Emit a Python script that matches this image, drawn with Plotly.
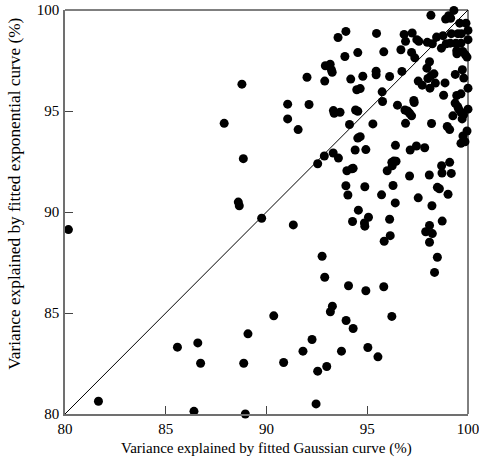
import plotly.graph_objects as go

gauss = [80.17, 81.66, 86.40, 88.95, 85.58, 86.59, 86.73, 88.87, 89.08, 90.36, 90.85, 91.81, 92.26, 92.54,
         92.99, 92.46, 93.72, 93.95, 94.30, 93.17, 93.27, 95.03, 95.53, 96.22, 95.82, 94.93, 94.07, 92.76,
         92.89,
         88.78, 87.90, 88.85, 88.60, 88.65, 89.76, 91.33, 91.05, 91.05, 91.57, 92.11, 92.01, 92.92, 93.16,
         93.22, 93.26, 92.89, 93.55, 93.94, 93.89, 93.32, 93.36, 93.65, 94.12, 93.31, 93.57, 92.87, 92.54,
         94.18, 94.53, 94.78, 94.48, 94.65, 94.42, 94.53, 94.53, 94.65, 94.40, 94.93, 93.99, 94.24, 94.30,
         93.94, 94.04, 94.88, 94.56, 94.27, 94.86, 94.88, 95.06, 95.28, 95.46, 95.44, 95.44, 95.82, 95.74,
         95.76, 96.11, 96.50, 96.67, 96.72, 96.83, 96.90, 97.23, 97.46, 97.56, 97.20, 97.36, 96.87, 97.00,
         97.10, 97.20, 97.31, 97.33, 96.90, 97.53, 97.73, 97.98, 98.16, 97.96, 98.09, 98.01, 98.16, 98.31,
         98.11, 98.38, 98.23, 98.44, 98.76, 98.68, 98.92, 98.86, 98.79, 98.89, 99.04, 99.30, 99.14, 99.17,
         99.50, 99.67, 99.12, 99.40, 99.65, 99.59, 99.90, 100.0, 100.0, 99.44, 99.45, 99.74, 99.87, 99.95,
         99.37, 99.72, 99.79, 100.0, 99.65, 99.44, 99.36, 99.49, 99.54, 99.64, 99.78, 99.71, 99.25, 100.0,
         99.75, 99.65, 99.85, 99.95, 98.97, 99.09, 98.19, 97.85, 97.44, 97.13, 96.40, 96.22, 96.32, 96.43,
         96.24, 95.99, 96.28, 95.71, 96.39, 96.11, 96.14, 95.84, 97.10, 97.53, 98.08, 98.69, 99.09, 98.71,
         99.17, 98.48, 98.58, 99.01, 98.21, 98.72, 98.09, 97.90, 98.23, 98.09, 98.48, 98.34]

expo = [89.13, 80.63, 80.13, 80.00, 83.31, 83.52, 82.51, 82.51, 83.97, 84.86, 82.55, 83.11, 83.69, 82.12,
        82.35, 80.50, 83.11, 84.63, 84.23, 85.06, 85.34, 83.29, 82.83, 84.83, 86.30, 86.10, 86.35, 87.81,
        86.77,
        96.33, 94.39, 92.64, 90.49, 90.31, 89.69, 89.36, 95.34, 94.61, 94.08, 95.32, 96.67, 97.24, 97.32,
        97.04, 96.92, 96.48, 98.64, 98.94, 97.70, 95.02, 94.89, 94.94, 94.33, 92.92, 92.67, 92.77, 92.39,
        96.58, 97.89, 96.72, 96.05, 96.11, 95.05, 94.99, 93.66, 93.73, 93.07, 93.09, 92.04, 92.14, 92.16,
        91.30, 90.84, 91.25, 90.09, 89.53, 89.46, 89.30, 89.74, 94.36, 98.84, 96.97, 96.79, 97.93, 95.95,
        95.47, 96.71, 95.29, 98.03, 96.96, 98.79, 98.45, 98.86, 98.53, 98.45, 97.90, 97.63, 95.05, 95.00,
        94.89, 94.76, 95.52, 95.42, 94.39, 96.48, 96.28, 98.40, 99.74, 97.12, 97.44, 96.61, 96.74, 96.84,
        96.13, 96.38, 98.33, 98.66, 98.73, 98.11, 98.33, 96.39, 95.78, 99.55, 99.72, 99.98, 99.59, 98.83,
        98.83, 98.83, 98.36, 98.36, 98.36, 99.35, 99.35, 98.99, 98.53, 97.98, 97.83, 97.95, 97.78, 97.67,
        96.81, 97.04, 96.63, 96.13, 95.85, 95.77, 95.39, 95.22, 95.09, 94.95, 94.81, 94.61, 94.76, 95.09,
        93.76, 93.40, 93.48, 94.01, 94.23, 94.08, 94.38, 93.18, 93.27, 93.07, 93.30, 92.46, 92.52, 92.51,
        92.29, 92.04, 91.31, 90.85, 90.45, 89.64, 88.83, 88.55, 91.78, 90.70, 91.83, 92.29, 92.46, 91.93,
        91.91, 91.22, 91.15, 90.88, 90.31, 89.55, 89.33, 89.02, 88.93, 88.50, 87.76, 87.01]

diag = [80, 100]
ticks = [80, 85, 90, 95, 100]
x_title = "Variance explained by fitted Gaussian curve (%)"
y_title = "Variance explained by fitted exponential curve (%)"

fig = go.Figure()
fig.add_trace(go.Scatter(x=diag, y=diag, mode="lines",
                         line=dict(color="black", width=1), hoverinfo="skip"))
fig.add_trace(go.Scatter(x=gauss, y=expo, mode="markers", cliponaxis=False,
                         marker=dict(color="black", size=9, line=dict(width=0))))

font = "Liberation Serif"
axis_common = dict(range=[80, 100], tickvals=ticks, ticks="inside", ticklen=8,
                   tickcolor="#444", tickwidth=1, showline=True, linecolor="#707070",
                   linewidth=1.6, mirror=False, showgrid=False, zeroline=False,
                   automargin=False, ticklabeloverflow="allow",
                   tickfont=dict(family=font, size=15, color="black"))

fig.update_layout(
    width=479, height=459, showlegend=False,
    font=dict(family=font, color="black"),
    paper_bgcolor="white", plot_bgcolor="white",
    margin=dict(l=65, r=11, t=10, b=45),
    xaxis=dict(**axis_common, ticklabelstandoff=0),
    yaxis=dict(**axis_common, ticklabelstandoff=1),
    shapes=[
        dict(type="line", xref="paper", yref="paper", x0=0, x1=1, y0=1, y1=1,
             line=dict(color="black", width=1)),
        dict(type="line", xref="paper", yref="paper", x0=1, x1=1, y0=0, y1=1,
             line=dict(color="black", width=1)),
    ],
    annotations=[
        dict(text=x_title, xref="paper", yref="paper", x=0.5, y=0, yshift=-34,
             xanchor="center", yanchor="middle", showarrow=False,
             font=dict(family=font, size=15, color="black")),
        dict(text=y_title, xref="paper", yref="paper", x=0, xshift=-50, y=0.545,
             xanchor="center", yanchor="middle", showarrow=False, textangle=-90,
             font=dict(family=font, size=17.3, color="black")),
    ],
)

fig.write_html("out.html")
